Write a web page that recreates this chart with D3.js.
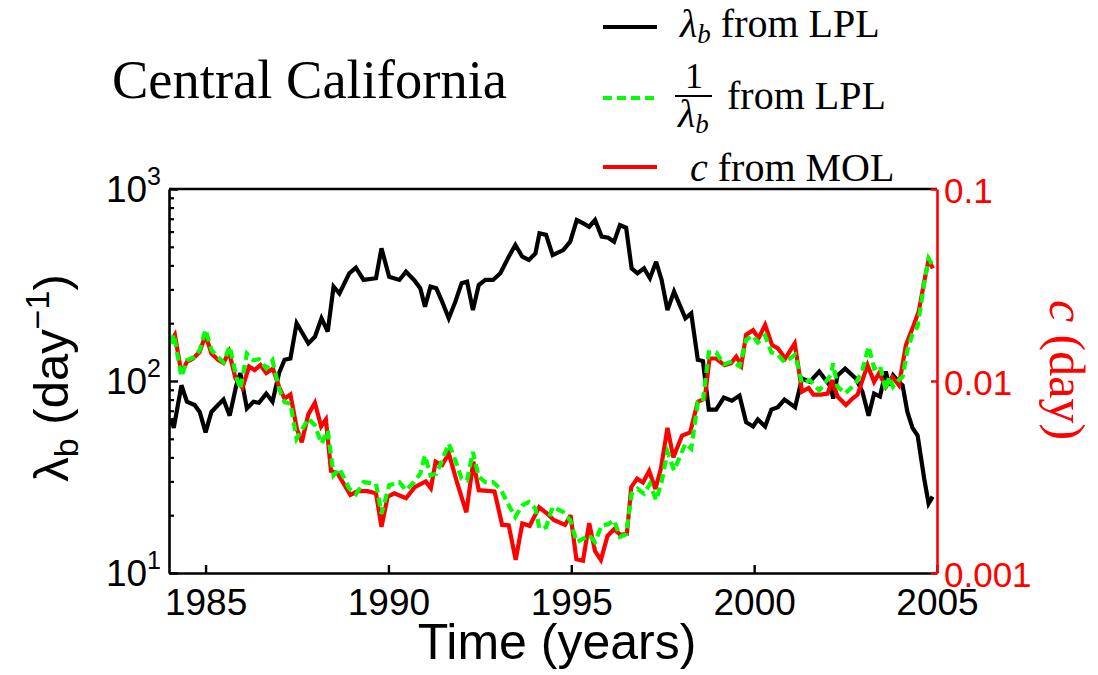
<!DOCTYPE html>
<html>
<head>
<meta charset="utf-8">
<script src="https://cdn.jsdelivr.net/npm/d3@7"></script>
<style>
  html, body { margin: 0; padding: 0; background: #fff; }
  svg { display: block; }
</style>
</head>
<body>
<svg id="chart" width="1098" height="675"></svg>
<script>
// ---------------- data ----------------
const lambdaYears = [1984.06,1984.13,1984.34,1984.49,1984.70,1984.84,1985.00,1985.16,1985.34,1985.49,1985.66,1985.84,1985.95,1986.13,1986.31,1986.46,1986.66,1986.83,1987.01,1987.16,1987.32,1987.49,1987.81,1987.99,1988.17,1988.34,1988.50,1988.66,1988.93,1989.11,1989.32,1989.66,1989.81,1990.02,1990.30,1990.48,1990.70,1990.87,1991.00,1991.15,1991.31,1991.45,1991.65,1991.83,1992.00,1992.15,1992.31,1992.47,1992.65,1992.86,1993.06,1993.29,1993.47,1993.66,1993.84,1994.02,1994.13,1994.31,1994.49,1994.78,1994.97,1995.15,1995.33,1995.49,1995.65,1995.83,1996.01,1996.17,1996.33,1996.50,1996.65,1996.81,1996.99,1997.15,1997.32,1997.47,1997.63,1997.81,1998.12,1998.28,1998.46,1998.60,1998.76,1998.96,1999.17,1999.39,1999.60,1999.78,1999.97,2000.10,2000.30,2000.47,2000.65,2000.83,2001.12,2001.31,2001.52,2001.78,2002.10,2002.16,2002.28,2002.49,2002.78,2002.96,2003.13,2003.28,2003.44,2003.60,2003.69,2003.80,2003.95,2004.06,2004.19,2004.33,2004.47,2004.65,2004.77,2004.88];
const lambdaValues = [64,57,95,78,75,69,54,69,75,80,66,95,110,72,78,77,86,78,110,129,131,200,157,170,212,181,310,286,364,389,336,343,491,349,336,371,336,304,244,310,304,264,212,259,323,329,234,316,336,336,364,444,511,444,427,462,588,577,453,481,532,689,662,636,689,565,558,532,649,628,386,364,386,343,418,336,234,292,212,225,129,127,71,71,82,79,84,61,58,63,58,71,73,80,73,103,99,112,93,81,107,116,103,88,66,86,83,112,95,107,99,95,69,57,52,31,23,25];

const cYears = [1984.04,1984.16,1984.34,1984.49,1984.66,1984.84,1985.00,1985.16,1985.34,1985.49,1985.64,1985.82,1986.01,1986.19,1986.34,1986.50,1986.66,1986.84,1987.02,1987.16,1987.32,1987.50,1987.63,1987.81,1987.99,1988.16,1988.29,1988.43,1988.61,1988.96,1989.16,1989.43,1989.66,1989.81,1989.98,1990.16,1990.48,1990.72,1991.02,1991.16,1991.29,1991.47,1991.65,1991.89,1992.13,1992.32,1992.47,1992.90,1993.11,1993.29,1993.48,1993.66,1993.86,1994.12,1994.34,1994.52,1994.83,1994.98,1995.14,1995.32,1995.49,1995.65,1995.81,1995.99,1996.17,1996.34,1996.52,1996.64,1996.80,1996.96,1997.13,1997.30,1997.45,1997.63,1997.79,1998.03,1998.25,1998.46,1998.65,1998.78,1998.96,1999.19,1999.37,1999.51,1999.65,1999.78,1999.97,2000.12,2000.30,2000.49,2000.65,2000.85,2001.11,2001.31,2001.49,2001.62,2001.83,2002.01,2002.13,2002.28,2002.51,2002.69,2002.83,2003.10,2003.28,2003.42,2003.60,2003.78,2003.96,2004.15,2004.33,2004.50,2004.65,2004.77,2004.89];
const cValues = [0.0160,0.0174,0.0110,0.0126,0.0131,0.0142,0.0174,0.0139,0.0129,0.0124,0.0142,0.0103,0.0092,0.0119,0.0114,0.0121,0.0110,0.0116,0.0092,0.0081,0.0085,0.0056,0.0048,0.0067,0.0077,0.0058,0.0063,0.0034,0.0033,0.00255,0.00267,0.00267,0.0026,0.00174,0.0025,0.0026,0.00245,0.0028,0.0030,0.00276,0.0038,0.00365,0.0042,0.0029,0.00207,0.0038,0.0027,0.00266,0.00178,0.00177,0.00117,0.00181,0.00176,0.0022,0.00204,0.00189,0.00178,0.0020,0.00118,0.00116,0.00182,0.0013,0.00117,0.00156,0.00169,0.00158,0.0016,0.0028,0.0031,0.00296,0.0034,0.00274,0.0035,0.0057,0.0040,0.0052,0.0054,0.0078,0.0081,0.0131,0.0131,0.0121,0.0124,0.0134,0.0121,0.0174,0.0184,0.0167,0.0196,0.0154,0.0148,0.0131,0.0157,0.0088,0.0092,0.0085,0.0085,0.0086,0.0101,0.0083,0.0075,0.0081,0.0085,0.0121,0.0099,0.0110,0.0093,0.0105,0.0095,0.0154,0.0188,0.0230,0.0329,0.0427,0.0386];

const xTicks = [1985, 1990, 1995, 2000, 2005];
const leftMajorTicks = [10, 100, 1000];
const leftTickExponents = ["1", "2", "3"];
const leftMinorTicks = [20,30,40,50,60,70,80,90,200,300,400,500,600,700,800,900];
const rightTicks = [0.001, 0.01, 0.1];
const rightTickLabels = ["0.001", "0.01", "0.1"];

const titleText = "Central California";
const xLabel = "Time (years)";

// ---------------- layout ----------------
const svg = d3.select("#chart");
svg.append("rect").attr("width", 1098).attr("height", 675).attr("fill", "#fff");

const X0 = 169, X1 = 937, YT = 189, YB = 573;
const SANS = "'Liberation Sans', Arial, Helvetica, sans-serif";
const SERIF = "'Liberation Serif', 'Times New Roman', serif";
const GREEN = "#00ff00", RED = "#ff0000";

const x = d3.scaleLinear().domain([1984, 2005]).range([X0, X1]);
const yL = d3.scaleLog().domain([10, 1000]).range([YB, YT]);
const yR = d3.scaleLog().domain([0.001, 0.1]).range([YB, YT]);

const lambdaData = lambdaYears.map((t, i) => ({t, v: lambdaValues[i]}));
const invData = lambdaYears.map((t, i) => ({t, v: 1 / lambdaValues[i]}));
const cData = cYears.map((t, i) => ({t, v: cValues[i]}));

svg.append("clipPath").attr("id", "clip")
  .append("rect").attr("x", X0).attr("y", YT).attr("width", X1 - X0).attr("height", YB - YT);

const plot = svg.append("g").attr("clip-path", "url(#clip)");

const lineL = d3.line().x(d => x(d.t)).y(d => yL(d.v));
const lineR = d3.line().x(d => x(d.t)).y(d => yR(d.v));

plot.append("path").datum(lambdaData).attr("d", lineL)
  .attr("fill", "none").attr("stroke", "#000").attr("stroke-width", 4.2).attr("stroke-linejoin", "miter").attr("stroke-miterlimit", 3);
plot.append("path").datum(cData).attr("d", lineR)
  .attr("fill", "none").attr("stroke", RED).attr("stroke-width", 4.2).attr("stroke-linejoin", "miter").attr("stroke-miterlimit", 3);
plot.append("path").datum(invData).attr("d", lineR)
  .attr("fill", "none").attr("stroke", GREEN).attr("stroke-width", 4.2).attr("stroke-dasharray", "9,5");

// ---------------- axes ----------------
svg.append("line").attr("x1", X0).attr("x2", X1).attr("y1", YT).attr("y2", YT)
  .attr("stroke", "#000").attr("stroke-width", 2.6);

const gx = svg.append("g").attr("transform", `translate(0,${YB})`)
  .call(d3.axisBottom(x).tickValues(xTicks).tickSizeInner(-8).tickSizeOuter(0).tickPadding(16).tickFormat(d3.format("d")));
gx.select(".domain").attr("stroke", "#000").attr("stroke-width", 2.6);
gx.selectAll(".tick line").attr("stroke", "#000").attr("stroke-width", 2.4);
gx.selectAll(".tick text").attr("font-family", SANS).attr("font-size", 37).attr("fill", "#000").attr("dy", "0.71em");

const gLm = svg.append("g").attr("transform", `translate(${X0},0)`)
  .call(d3.axisLeft(yL).tickValues(leftMinorTicks).tickSizeInner(-5).tickSizeOuter(0).tickFormat(""));
gLm.select(".domain").remove();
gLm.selectAll(".tick line").attr("stroke", "#000").attr("stroke-width", 2.2);

const gL = svg.append("g").attr("transform", `translate(${X0},0)`)
  .call(d3.axisLeft(yL).tickValues(leftMajorTicks).tickSizeInner(-9).tickSizeOuter(0).tickFormat(""));
gL.select(".domain").attr("stroke", "#000").attr("stroke-width", 2.6);
gL.selectAll(".tick line").attr("stroke", "#000").attr("stroke-width", 2.4);
gL.selectAll(".tick").each(function(d, i) {
  const t = d3.select(this).append("text")
    .attr("x", -8).attr("y", 12).attr("text-anchor", "end")
    .attr("font-family", SANS).attr("font-size", 37).attr("fill", "#000");
  t.append("tspan").text("10");
  t.append("tspan").attr("font-size", 25).attr("dy", -17).text(leftTickExponents[i]);
});

const gR = svg.append("g").attr("transform", `translate(${X1},0)`)
  .call(d3.axisRight(yR).tickValues(rightTicks).tickSizeInner(-6).tickSizeOuter(0).tickPadding(7)
    .tickFormat((d, i) => rightTickLabels[i]));
gR.select(".domain").attr("stroke", RED).attr("stroke-width", 2.6);
gR.selectAll(".tick line").attr("stroke", RED).attr("stroke-width", 2.4);
gR.selectAll(".tick text").attr("font-family", SANS).attr("font-size", 35).attr("fill", RED).attr("dy", 13);

// ---------------- labels ----------------
svg.append("text").attr("x", 557).attr("y", 659).attr("text-anchor", "middle")
  .attr("font-family", SANS).attr("font-size", 50).attr("fill", "#000").text(xLabel);

const yl = svg.append("text").attr("transform", "translate(68,378) rotate(-90)")
  .attr("text-anchor", "middle").attr("font-family", SANS).attr("font-size", 49).attr("fill", "#000");
yl.append("tspan").text("λ");
yl.append("tspan").attr("font-size", 34).attr("dy", 10).text("b");
yl.append("tspan").attr("dy", -10).text("  (day");
yl.append("tspan").attr("font-size", 34).attr("dy", -19).text("−1");
yl.append("tspan").attr("dy", 19).text(")");

const yr = svg.append("text").attr("transform", "translate(1050,370) rotate(90)")
  .attr("text-anchor", "middle").attr("font-family", SERIF).attr("font-size", 50).attr("fill", RED);
yr.append("tspan").attr("font-style", "italic").text("c");
yr.append("tspan").text(" (day)");

svg.append("text").attr("x", 112).attr("y", 98)
  .attr("font-family", SERIF).attr("font-size", 54.5).attr("fill", "#000").text(titleText);

// ---------------- legend ----------------
const leg = svg.append("g");
leg.append("line").attr("x1", 603).attr("x2", 657).attr("y1", 27).attr("y2", 27)
  .attr("stroke", "#000").attr("stroke-width", 4.2);
const t1 = leg.append("text").attr("x", 680).attr("y", 37).attr("font-family", SERIF).attr("font-size", 40).attr("fill", "#000");
t1.append("tspan").attr("font-style", "italic").text("λ");
t1.append("tspan").attr("font-style", "italic").attr("font-size", 27).attr("dy", 6).text("b");
t1.append("tspan").attr("dy", -6).text(" from LPL");

leg.append("line").attr("x1", 603).attr("x2", 657).attr("y1", 98).attr("y2", 98)
  .attr("stroke", GREEN).attr("stroke-width", 4.2).attr("stroke-dasharray", "9,5");
leg.append("text").attr("x", 694).attr("y", 88).attr("text-anchor", "middle")
  .attr("font-family", SERIF).attr("font-size", 36).attr("fill", "#000").text("1");
leg.append("line").attr("x1", 675).attr("x2", 712).attr("y1", 96).attr("y2", 96)
  .attr("stroke", "#000").attr("stroke-width", 2);
const t2 = leg.append("text").attr("x", 678).attr("y", 127).attr("font-family", SERIF).attr("font-size", 40).attr("fill", "#000");
t2.append("tspan").attr("font-style", "italic").text("λ");
t2.append("tspan").attr("font-style", "italic").attr("font-size", 27).attr("dy", 6).text("b");
leg.append("text").attr("x", 727).attr("y", 109).attr("font-family", SERIF).attr("font-size", 40).attr("fill", "#000").text("from LPL");

leg.append("line").attr("x1", 603).attr("x2", 657).attr("y1", 167).attr("y2", 167)
  .attr("stroke", RED).attr("stroke-width", 4.2);
const t3 = leg.append("text").attr("x", 690).attr("y", 181).attr("font-family", SERIF).attr("font-size", 40).attr("fill", "#000");
t3.append("tspan").attr("font-style", "italic").text("c");
t3.append("tspan").text(" from MOL");
</script>
</body>
</html>
